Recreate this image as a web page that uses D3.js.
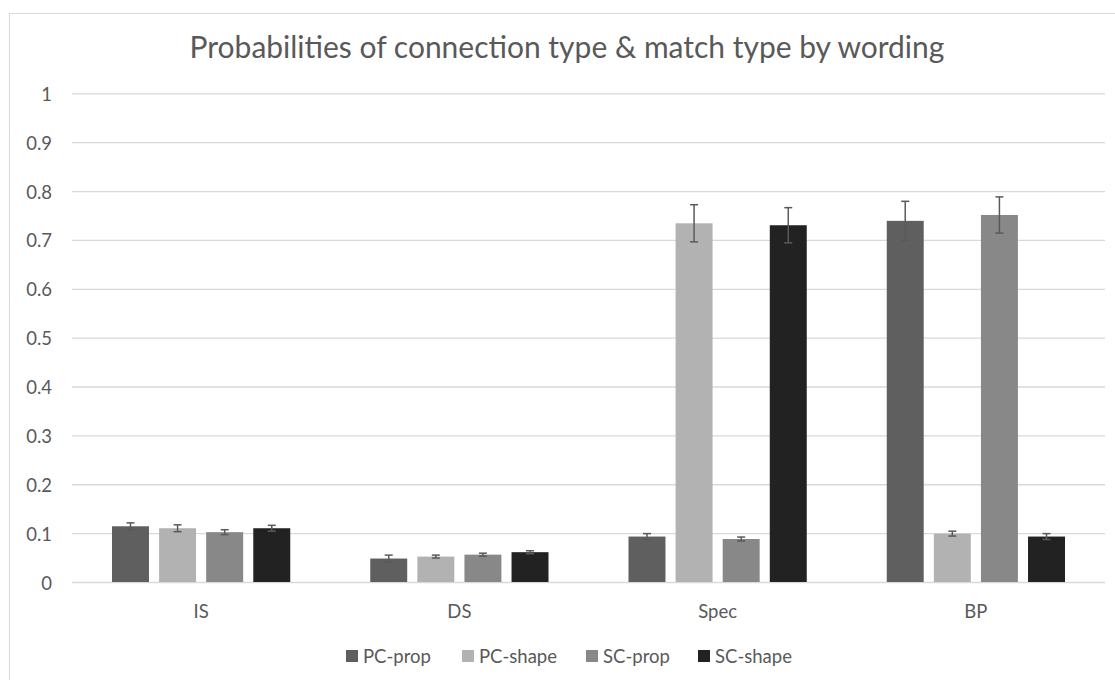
<!DOCTYPE html>
<html>
<head>
<meta charset="utf-8">
<script src="https://cdn.jsdelivr.net/npm/d3@7"></script>
<style>
  html, body { margin: 0; padding: 0; background: #fff; }
  svg { display: block; }
  text { font-family: Lato, "Open Sans", sans-serif; fill: #595959; }
</style>
</head>
<body>
<svg id="chart" width="1115" height="680"></svg>
<script>
// Wording conditions on the x axis
const categories = ["IS", "DS", "Spec", "BP"];
// Series (connection type & match type)
const seriesNames = ["PC-prop", "PC-shape", "SC-prop", "SC-shape"];
const seriesColors = ["#5f5f5f", "#b2b2b2", "#888888", "#222222"];
// Probabilities per series, in category order
const pcProp  = [0.114, 0.048, 0.093, 0.739];
const pcShape = [0.110, 0.052, 0.734, 0.099];
const scProp  = [0.102, 0.056, 0.088, 0.751];
const scShape = [0.110, 0.061, 0.730, 0.093];
// Error bar half-widths per series
const pcPropErr  = [0.007, 0.007, 0.006, 0.040];
const pcShapeErr = [0.007, 0.003, 0.038, 0.005];
const scPropErr  = [0.005, 0.003, 0.004, 0.037];
const scShapeErr = [0.006, 0.003, 0.036, 0.006];
const yTicks = [0, 0.1, 0.2, 0.3, 0.4, 0.5, 0.6, 0.7, 0.8, 0.9, 1];
const titleText = "Probabilities of connection type & match type by wording";

const values = [pcProp, pcShape, scProp, scShape];
const errors = [pcPropErr, pcShapeErr, scPropErr, scShapeErr];

const svg = d3.select("#chart");
const plotLeft = 72, plotRight = 1105, plotTop = 93.3, plotBottom = 582;

// Outer chart frame
svg.append("rect")
  .attr("x", 9.5).attr("y", 13.5)
  .attr("width", 1115).attr("height", 700)
  .attr("fill", "#fff").attr("stroke", "#d9d9d9").attr("stroke-width", 1);

const x = d3.scaleBand().domain(categories).range([plotLeft, plotRight]).paddingInner(0).paddingOuter(0);
const x1 = d3.scaleBand().domain(seriesNames).range([40, x.bandwidth() - 40]).paddingInner(0.215).paddingOuter(0);
const y = d3.scaleLinear().domain([0, 1]).range([plotBottom, plotTop]);

// Gridlines and y axis labels
const yAxis = d3.axisLeft(y).tickValues(yTicks).tickSize(-(plotRight - plotLeft)).tickPadding(20)
  .tickFormat(d => d3.format("~g")(d));
const ya = svg.append("g").attr("transform", `translate(${plotLeft},0)`).call(yAxis);
ya.select(".domain").remove();
ya.selectAll(".tick line").attr("stroke", "#d9d9d9").attr("stroke-width", 1.3);
ya.selectAll(".tick text").attr("font-size", 18.5).attr("fill", "#595959")
  .attr("dy", "0.38em")
  .style("font-family", "Lato, sans-serif");

// X axis labels
const xa = svg.append("g").attr("transform", `translate(0,${plotBottom})`)
  .call(d3.axisBottom(x).tickSize(0).tickPadding(0));
xa.select(".domain").remove();
xa.selectAll(".tick text").attr("font-size", 18.5).attr("fill", "#595959")
  .attr("y", 36).attr("dy", 0)
  .style("font-family", "Lato, sans-serif");

// Bars
const rows = [];
categories.forEach((c, ci) => seriesNames.forEach((s, si) => {
  rows.push({ c, s, si, v: values[si][ci], e: errors[si][ci] });
}));

const g = svg.append("g");
g.selectAll("rect.bar").data(rows).join("rect")
  .attr("class", "bar")
  .attr("x", d => x(d.c) + x1(d.s))
  .attr("y", d => y(d.v))
  .attr("width", x1.bandwidth())
  .attr("height", d => y(0) - y(d.v))
  .attr("fill", d => seriesColors[d.si]);

// Error bars
const eb = svg.append("g").attr("stroke", "#5a5a5a").attr("stroke-width", 1.5);
rows.forEach(d => {
  const cx = x(d.c) + x1(d.s) + x1.bandwidth() / 2;
  const y1 = y(d.v + d.e), y2 = y(d.v - d.e);
  eb.append("line").attr("x1", cx).attr("x2", cx).attr("y1", y1).attr("y2", y2);
  eb.append("line").attr("x1", cx - 4).attr("x2", cx + 4).attr("y1", y1).attr("y2", y1);
  eb.append("line").attr("x1", cx - 4).attr("x2", cx + 4).attr("y1", y2).attr("y2", y2);
});

// Title, sized to span its allotted width
const title = svg.append("text")
  .attr("x", 567).attr("y", 58)
  .attr("text-anchor", "middle")
  .attr("font-size", 20)
  .text(titleText);
const titleWidth = title.node().getComputedTextLength();
title.attr("font-size", 20 * 755 / titleWidth);

// Legend
const legendItems = seriesNames.map((s, i) => ({ s, i }));
const lg = svg.append("g").attr("transform", "translate(0,656)");
const itemX = [346, 462, 586, 698];
legendItems.forEach(d => {
  const it = lg.append("g").attr("transform", `translate(${itemX[d.i]},0)`);
  it.append("rect").attr("x", 0).attr("y", -6).attr("width", 12).attr("height", 12)
    .attr("fill", seriesColors[d.i]);
  it.append("text").attr("x", 17).attr("y", 0).attr("dy", "0.36em")
    .attr("font-size", 18.5).text(d.s);
});
</script>
</body>
</html>
